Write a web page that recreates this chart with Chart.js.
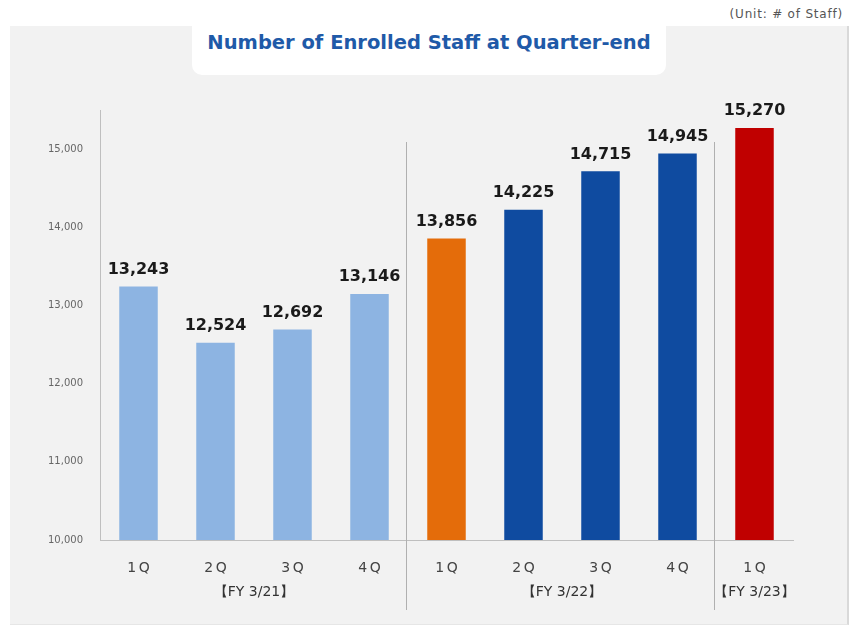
<!DOCTYPE html>
<html>
<head>
<meta charset="utf-8">
<script src="https://cdn.jsdelivr.net/npm/chart.js@4/dist/chart.umd.min.js"></script>
<style>
  html, body { margin: 0; padding: 0; background: #ffffff; }
  #wrap { position: relative; width: 855px; height: 627px; overflow: hidden; }
  #panel { position: absolute; left: 10px; top: 26px; width: 837px; height: 598px; background: #f2f2f2; border-right: 2px solid #d9d9d9; border-bottom: 1px solid #e6e6e6; }
  #tab { position: absolute; left: 192px; top: 0px; width: 474px; height: 75px; background: #ffffff; border-radius: 0 0 10px 10px; }
  #title { position: absolute; left: 182px; top: 31px; width: 494px; text-align: center; font-family: "DejaVu Sans", Verdana, sans-serif; font-weight: bold; font-size: 19.5px; color: #1f5aa8; }
  #unit { position: absolute; right: 12px; top: 7px; font-family: "DejaVu Sans", sans-serif; font-size: 12px; letter-spacing: 0.8px; color: #555; }
  canvas { position: absolute; left: 0; top: 0; }
</style>
</head>
<body>
<div id="wrap">
  <div id="panel"></div>
  <div id="tab"></div>
  <div id="title">Number of Enrolled Staff at Quarter-end</div>
  <div id="unit">(Unit: # of Staff)</div>
  <canvas id="c" width="855" height="627"></canvas>
</div>
<script>
const categories = ["1\u2009Q", "2\u2009Q", "3\u2009Q", "4\u2009Q", "1\u2009Q", "2\u2009Q", "3\u2009Q", "4\u2009Q", "1\u2009Q"];
const staffValues = [13243, 12524, 12692, 13146, 13856, 14225, 14715, 14945, 15270];
const barColors = ["#8db4e2", "#8db4e2", "#8db4e2", "#8db4e2", "#e46c0a", "#0f4ba0", "#0f4ba0", "#0f4ba0", "#c00000"];
const fiscalGroups = ["\u3010FY 3/21\u3011", "\u3010FY 3/22\u3011", "\u3010FY 3/23\u3011"];
const groupSpans = [[0, 3], [4, 7], [8, 8]];
const yTicks = [10000, 11000, 12000, 13000, 14000, 15000];

const decor = {
  id: "decor",
  afterDatasetsDraw(chart) {
    const ctx = chart.ctx;
    const x = chart.scales.x;
    const meta = chart.getDatasetMeta(0);
    ctx.save();
    // value labels
    ctx.font = "bold 16px 'DejaVu Sans', sans-serif";
    ctx.fillStyle = "#1a1a1a";
    ctx.textAlign = "center";
    ctx.textBaseline = "bottom";
    meta.data.forEach((bar, i) => {
      ctx.fillText(staffValues[i].toLocaleString("en-US"), bar.x, bar.y - 9);
    });
    // separators
    ctx.strokeStyle = "#b0b0b0";
    ctx.lineWidth = 1;
    const seps = [];
    for (let g = 0; g < groupSpans.length - 1; g++) {
      const a = x.getPixelForValue(groupSpans[g][1]);
      const b = x.getPixelForValue(groupSpans[g + 1][0]);
      seps.push(Math.round((a + b) / 2) - 1.5);
    }
    seps.forEach(sx => {
      ctx.beginPath();
      ctx.moveTo(sx, 142);
      ctx.lineTo(sx, 610);
      ctx.stroke();
    });
    // group labels
    ctx.font = "14px 'DejaVu Sans', sans-serif";
    ctx.fillStyle = "#333";
    ctx.textBaseline = "middle";
    groupSpans.forEach((s, g) => {
      const cx = (x.getPixelForValue(s[0]) + x.getPixelForValue(s[1])) / 2;
      ctx.fillText(fiscalGroups[g], cx, 592);
    });
    ctx.restore();
  }
};

new Chart(document.getElementById("c"), {
  type: "bar",
  data: {
    labels: categories,
    datasets: [{
      data: staffValues,
      backgroundColor: barColors,
      barPercentage: 0.5,
      categoryPercentage: 1.0
    }]
  },
  options: {
    responsive: false,
    animation: false,
    events: [],
    layout: { padding: { left: 0, right: 62, top: 110, bottom: 0 } },
    plugins: { legend: { display: false }, tooltip: { enabled: false } },
    scales: {
      x: {
        grid: { display: false, drawTicks: false },
        border: { display: true, color: "#bfbfbf", width: 1 },
        ticks: { color: "#444", font: { family: "'DejaVu Sans', sans-serif", size: 14 }, padding: 20 },
        afterFit(scale) { scale.height = 87; }
      },
      y: {
        min: 10000,
        max: 15500,
        afterBuildTicks(scale) { scale.ticks = yTicks.map(v => ({ value: v })); },
        grid: { display: false, drawTicks: false },
        border: { display: true, color: "#bfbfbf", width: 1 },
        ticks: {
          color: "#666",
          font: { family: "'DejaVu Sans', sans-serif", size: 10 },
          padding: 17,
          callback: v => Number(v).toLocaleString("en-US")
        },
        afterFit(scale) { scale.width = 100; }
      }
    }
  },
  plugins: [decor]
});
</script>
</body>
</html>
